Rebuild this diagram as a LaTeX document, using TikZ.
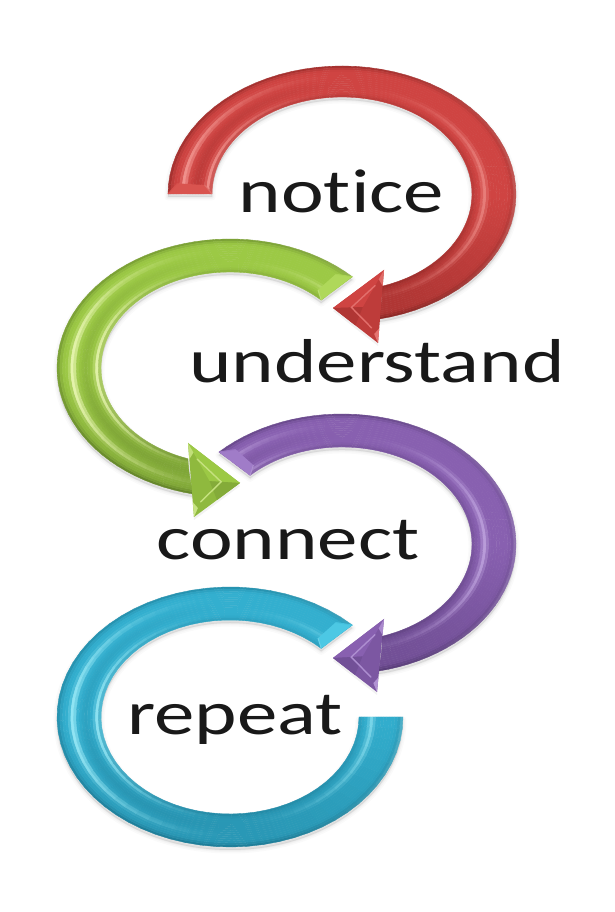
\documentclass[tikz,border=0pt]{standalone}
\usepackage{fontspec}
\setmainfont{Carlito}[Ligatures=NoCommon]
\usetikzlibrary{calc}
\tikzset{
  word/.style={anchor=base,text=black!90,font=\fontsize{62}{68}\selectfont,xscale=1.305,transform shape},
  cellfill/.style={fill=cc,draw=cc,line width=.35pt,line join=round},
}
% band: cx cy rxo ryo rxi ryi t0 t1outer t1inner
\newcommand{\tubeband}[9]{%
  \def\Cx{#1}\def\Cy{#2}\def\Rxo{#3}\def\Ryo{#4}\def\Rxi{#5}\def\Ryi{#6}\def\Ta{#7}\def\Tbo{#8}\def\Tbi{#9}%
  % soft shadow
  \foreach \w/\op in {7/.018,4/.025,1.5/.035}{%
    \draw[black,opacity=\op,line width=\w pt,line join=round,fill=black,fill opacity=\op]
      ({\Cx+\Rxo*cos(\Ta)},{\Cy+\Ryo*sin(\Ta)-3})
      arc[start angle=\Ta,end angle=\Tbo,x radius=\Rxo,y radius=\Ryo]
      -- ({\Cx+\Rxi*cos(\Tbi)},{\Cy+\Ryi*sin(\Tbi)-3})
      arc[start angle=\Tbi,end angle=\Ta,x radius=\Rxi,y radius=\Ryi] -- cycle;
  }%
  % radial x angular cells
  \foreach \i in {0,...,15}{%
    \pgfmathsetmacro\fa{\i/16}\pgfmathsetmacro\fb{(\i+1)/16}\pgfmathsetmacro\fm{(\i+.5)/16}%
    \pgfmathsetmacro\rxa{\Rxo+\fa*(\Rxi-\Rxo)}\pgfmathsetmacro\rya{\Ryo+\fa*(\Ryi-\Ryo)}%
    \pgfmathsetmacro\rxb{\Rxo+\fb*(\Rxi-\Rxo)}\pgfmathsetmacro\ryb{\Ryo+\fb*(\Ryi-\Ryo)}%
    \pgfmathsetmacro\tea{\Tbo+\fa*(\Tbi-\Tbo)}\pgfmathsetmacro\teb{\Tbo+\fb*(\Tbi-\Tbo)}%
    \pgfmathsetmacro\pL{.95*exp(-((\fm-.36)/.07)*((\fm-.36)/.07))+.85*exp(-((\fm-.91)/.06)*((\fm-.91)/.06))}%
    \pgfmathsetmacro\pR{.65*exp(-((\fm-.72)/.07)*((\fm-.72)/.07))+.45*exp(-(\fm/.06)*(\fm/.06))}%
    \pgfmathsetmacro\pE{exp(-(\fm/.1)*(\fm/.1))}%
    \pgfmathsetmacro\pI{exp(-((1-\fm)/.09)*((1-\fm)/.09))}%
    \pgfmathsetmacro\pD{exp(-((\fm-.66)/.12)*((\fm-.66)/.12))}%
    \foreach \j in {0,...,59}{%
      \pgfmathsetmacro\aaa{\Ta+\j/60*(\tea-\Ta)}\pgfmathsetmacro\aab{\Ta+(\j+1)/60*(\tea-\Ta)}%
      \pgfmathsetmacro\aba{\Ta+\j/60*(\teb-\Ta)}\pgfmathsetmacro\abb{\Ta+(\j+1)/60*(\teb-\Ta)}%
      \pgfmathsetmacro\cosm{cos(\aaa)}\pgfmathsetmacro\sinm{sin(\aaa)}%
      \pgfmathsetmacro\sL{max(0,-\cosm)}\pgfmathsetmacro\sR{max(0,\cosm)}%
      \pgfmathsetmacro\bot{max(0,-\sinm)}%
      \pgfmathsetmacro\mm{max(0,100-65*\pE-30*\pI-48*\bot-25*\sL*\pD)}%
      \pgfmathsetmacro\hh{max(0,100-100*(\sL*\sL*\pL+\sR*\sR*\pR))}%
      \colorlet{cc}{tubebase!\mm!tubedark!\hh!tubelight}%
      \fill[cellfill]
        ({\Cx+\rxa*cos(\aaa)},{\Cy+\rya*\sinm})
        -- ({\Cx+\rxa*cos(\aab)},{\Cy+\rya*sin(\aab)})
        -- ({\Cx+\rxb*cos(\abb)},{\Cy+\ryb*sin(\abb)})
        -- ({\Cx+\rxb*cos(\aba)},{\Cy+\ryb*sin(\aba)}) -- cycle;
    }%
  }%
  % bevelled tail end
  \pgfmathsetmacro\dl{\Tbo>\Ta ? 5 : -5}%
  \pgfmathsetmacro\tin{\Ta+\dl}%
  \pgfmathsetmacro\rxp{\Rxo+.2*(\Rxi-\Rxo)}\pgfmathsetmacro\ryp{\Ryo+.2*(\Ryi-\Ryo)}%
  \pgfmathsetmacro\rxq{\Rxo+.82*(\Rxi-\Rxo)}\pgfmathsetmacro\ryq{\Ryo+.82*(\Ryi-\Ryo)}%
  \fill[tubeend]
    ({\Cx+\Rxo*cos(\Ta)},{\Cy+\Ryo*sin(\Ta)})
    -- ({\Cx+\Rxi*cos(\Ta)},{\Cy+\Ryi*sin(\Ta)})
    -- ({\Cx+\rxq*cos(\tin)},{\Cy+\ryq*sin(\tin)})
    -- ({\Cx+\rxp*cos(\tin)},{\Cy+\ryp*sin(\tin)}) -- cycle;
  \draw[tubeend!85!white,line width=1pt]
    ({\Cx+\rxq*cos(\tin)},{\Cy+\ryq*sin(\tin)})
    -- ({\Cx+\Rxi*cos(\Ta)},{\Cy+\Ryi*sin(\Ta)});
  \draw[tubeend!70!tubebase,line width=1pt]
    ({\Cx+\rxp*cos(\tin)},{\Cy+\ryp*sin(\tin)})
    -- ({\Cx+\Rxo*cos(\Ta)},{\Cy+\Ryo*sin(\Ta)});
}
% head: tip, barb1, barb2
\newcommand{\tubehead}[3]{%
  \coordinate (tp) at #1;\coordinate (ba) at #2;\coordinate (bb) at #3;
  \coordinate (bm) at ($(ba)!.5!(bb)$);
  \coordinate (ce) at ($(tp)!.62!(bm)$);
  \fill[black,opacity=.05] ([yshift=-3pt]tp) -- ([yshift=-3pt]ba) -- ([yshift=-3pt]bb) -- cycle;
  \fill[tubebase!75!tubedark] (tp) -- (ba) -- (bb) -- cycle;
  \fill[tubebase] (tp) -- (ba) -- (ce) -- cycle;
  \fill[tubebase!55!tubedark] (tp) -- ($(tp)!.5!(bb)$) -- (ce) -- cycle;
  \fill[tubebase!55!tubelight] (ba) -- ($(ba)!.22!(bb)$) -- ($(ba)!.25!(ce)$) -- cycle;
  \fill[tubebase!45!tubelight] (bb) -- ($(bb)!.2!(ba)$) -- ($(bb)!.25!(ce)$) -- cycle;
  \draw[tubebase!50!tubelight,line width=1.4pt,line cap=round]
    ($(ba)!.42!(ce)$) -- ($(tp)!.62!(ce)$) -- ($(bb)!.42!(ce)$);
}
\begin{document}
\begin{tikzpicture}[x=1pt,y=1pt]
\useasboundingbox (0,0) rectangle (614,912);
\fill[white] (0,0) rectangle (614,912);

% red
\begin{scope}
\definecolor{tubebase}{HTML}{CF4442}\definecolor{tubedark}{HTML}{8A2523}\definecolor{tubelight}{HTML}{F59A95}\definecolor{tubeend}{HTML}{D9544F}
\tubeband{342}{718}{174}{128}{130}{97}{180}{-78}{-72}
\tubehead{(333,604)}{(384,642)}{(378,569)}
\end{scope}
% green
\begin{scope}
\definecolor{tubebase}{HTML}{9CC945}\definecolor{tubedark}{HTML}{66872B}\definecolor{tubelight}{HTML}{EDF9B8}\definecolor{tubeend}{HTML}{AFD85A}
\tubeband{230}{544}{173}{129}{129}{96}{45}{258}{251}
\tubehead{(240,429)}{(188,469)}{(194,395)}
\end{scope}
% purple
\begin{scope}
\definecolor{tubebase}{HTML}{8860B0}\definecolor{tubedark}{HTML}{583C78}\definecolor{tubelight}{HTML}{D3BBF0}\definecolor{tubeend}{HTML}{A07CC8}
\tubeband{342}{368}{174}{130}{130}{97}{135}{-78}{-72}
\tubehead{(333,254)}{(384,293)}{(377,220)}
\end{scope}
% blue
\begin{scope}
\definecolor{tubebase}{HTML}{33AFCF}\definecolor{tubedark}{HTML}{1F7F9A}\definecolor{tubelight}{HTML}{9CEBF8}\definecolor{tubeend}{HTML}{4CC8E4}
\tubeband{230}{195}{173}{130}{129}{97}{45}{360}{360}
\end{scope}

\node[word] (notice) at (341.5,699) {notice};
\node[word] (understand) at (377,529) {understand};
\node[word] (connect) at (288,352) {connect};
\node[word] (repeat) at (235,177) {repeat};
\end{tikzpicture}
\end{document}
